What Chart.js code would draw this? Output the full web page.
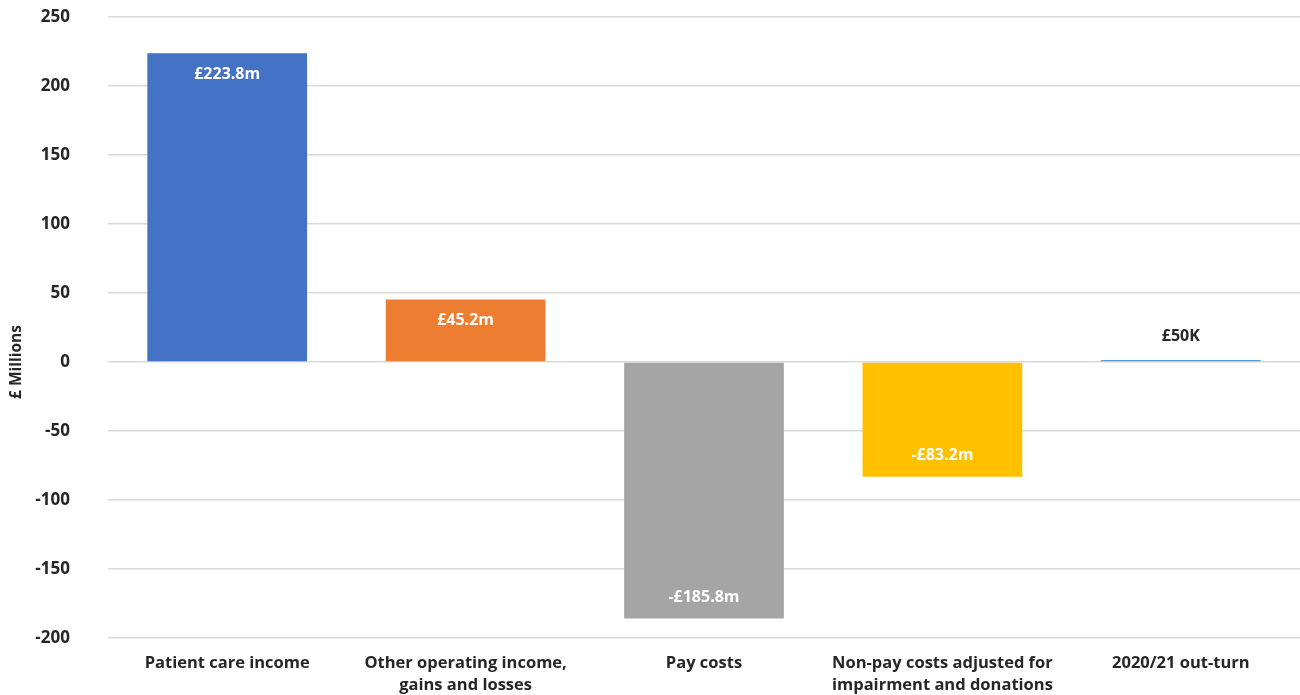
<!DOCTYPE html>
<html>
<head>
<meta charset="utf-8">
<script src="https://cdn.jsdelivr.net/npm/chart.js@4"></script>
<style>
  html, body { margin: 0; padding: 0; background: #fff; }
  #wrap { position: relative; width: 1300px; height: 695px; }
</style>
</head>
<body>
<div id="wrap"><canvas id="bridge"></canvas></div>
<script>
const CATEGORIES = [
  'Patient care income',
  ['Other operating income,', 'gains and losses'],
  'Pay costs',
  ['Non-pay costs adjusted for', 'impairment and donations'],
  '2020/21 out-turn',
];
const VALUES = [223.8, 45.2, -185.8, -83.2, 0.05];
const VALUE_LABELS = ['£223.8m', '£45.2m', '-£185.8m', '-£83.2m', '£50K'];
const BAR_COLORS = ['#4472C4', '#ED7D31', '#A5A5A5', '#FFC000', '#5B9BD5'];
const Y_TITLE = '£ Millions';

const FONT = '"Open Sans", "Noto Sans", sans-serif';

// writes each bar's value inside the bar end, or above it when the bar is too thin
const valueLabels = {
  id: 'valueLabels',
  afterDatasetsDraw(chart) {
    const { ctx } = chart;
    const meta = chart.getDatasetMeta(0);
    ctx.save();
    ctx.font = `bold 16px ${FONT}`;
    ctx.textAlign = 'center';
    ctx.textBaseline = 'middle';
    meta.data.forEach((bar, i) => {
      const v = VALUES[i];
      const h = Math.abs(bar.base - bar.y);
      let y;
      if (h < 30) {
        ctx.fillStyle = '#262626';
        y = Math.min(bar.y, bar.base) - 24;
      } else if (v >= 0) {
        ctx.fillStyle = '#ffffff';
        y = bar.y + 21;
      } else {
        ctx.fillStyle = '#ffffff';
        y = bar.y - 21;
      }
      ctx.fillText(VALUE_LABELS[i], bar.x, y);
    });

    // vertical axis title, level with the zero line
    const yScale = chart.scales.y;
    ctx.translate(17, yScale.getPixelForValue(0));
    ctx.rotate(-Math.PI / 2);
    ctx.fillStyle = '#262626';
    ctx.font = `bold 15.5px ${FONT}`;
    ctx.fillText(Y_TITLE, 0, 0);
    ctx.restore();
  },
};

new Chart(document.getElementById('bridge'), {
  type: 'bar',
  data: {
    labels: CATEGORIES,
    datasets: [{
      data: VALUES,
      backgroundColor: BAR_COLORS,
      barPercentage: 0.67,
      categoryPercentage: 1,
      minBarLength: 2,
    }],
  },
  options: {
    responsive: true,
    maintainAspectRatio: false,
    animation: false,
    layout: { padding: { top: 17, right: 0, left: 6, bottom: 0 } },
    plugins: {
      legend: { display: false },
      tooltip: { enabled: false },
    },
    scales: {
      x: {
        grid: { display: false, drawTicks: false },
        border: { display: false },
        ticks: {
          color: '#262626',
          padding: 14,
          maxRotation: 0,
          autoSkip: false,
          font: { family: FONT, size: 16.5, weight: 'bold', lineHeight: 1.35 },
        },
        afterFit(scale) {
          scale.height = 57;
          scale.paddingLeft = 0;
          scale.paddingRight = 0;
        },
      },
      y: {
        min: -200,
        max: 250,
        grid: { color: '#d9d9d9', lineWidth: 1.5, drawTicks: false },
        border: { display: false },
        ticks: {
          stepSize: 50,
          color: '#262626',
          padding: 38,
          font: { family: FONT, size: 17, weight: 'bold' },
        },
        afterFit(scale) {
          scale.width = 102;
          scale.paddingTop = 0;
          scale.paddingBottom = 0;
        },
      },
    },
  },
  plugins: [valueLabels],
});
</script>
</body>
</html>
